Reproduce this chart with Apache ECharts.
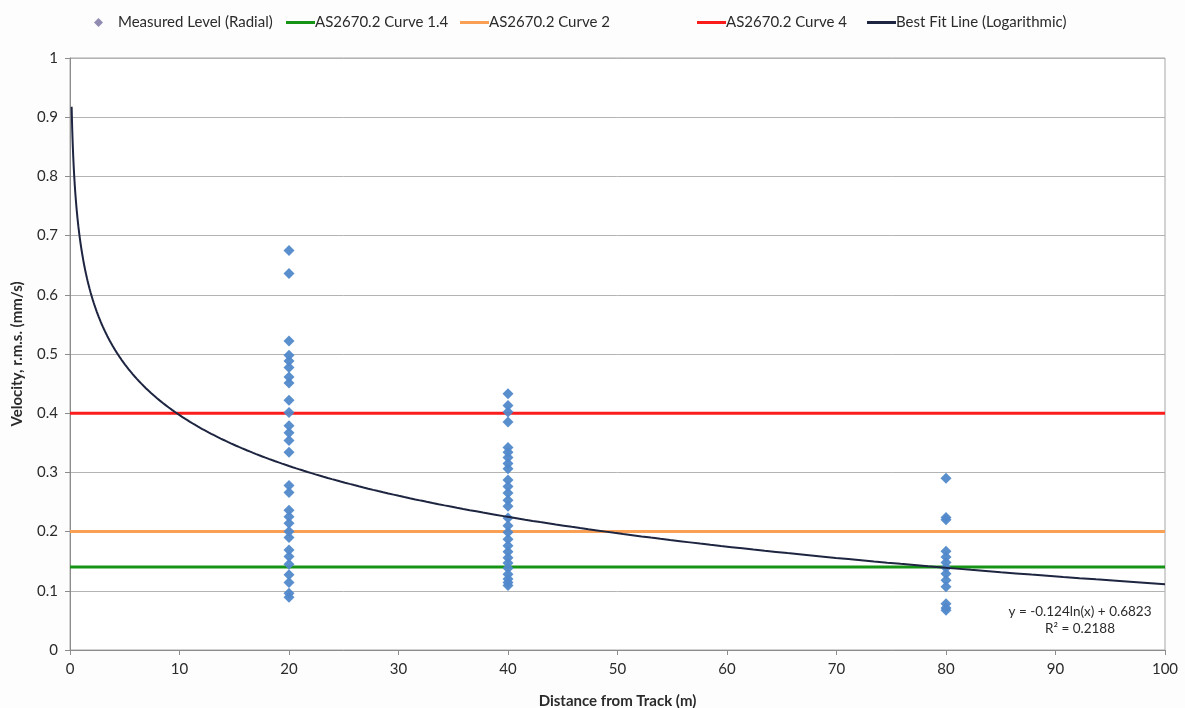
<!DOCTYPE html>
<html>
<head>
<meta charset="utf-8">
<script src="https://cdn.jsdelivr.net/npm/echarts@6/dist/echarts.min.js"></script>
<style>
  html, body { margin: 0; padding: 0; background: #fdfdfd; }
  #chart { width: 1185px; height: 708px; }
</style>
</head>
<body>
<div id="chart"></div>
<script>
// Measured radial vibration velocities (mm/s r.m.s.) grouped by distance from track (m)
const distances = [20, 40, 80];
const levelsAt20 = [0.675, 0.636, 0.522, 0.498, 0.488, 0.477, 0.461, 0.451, 0.422, 0.401,
  0.379, 0.367, 0.354, 0.334, 0.278, 0.266, 0.236, 0.225, 0.214, 0.200, 0.190, 0.169,
  0.158, 0.145, 0.127, 0.114, 0.096, 0.089];
const levelsAt40 = [0.433, 0.413, 0.402, 0.385, 0.342, 0.334, 0.325, 0.315, 0.306, 0.287,
  0.276, 0.265, 0.253, 0.243, 0.223, 0.210, 0.199, 0.187, 0.176, 0.166, 0.156, 0.147,
  0.138, 0.128, 0.120, 0.114, 0.109];
const levelsAt80 = [0.290, 0.224, 0.220, 0.167, 0.157, 0.148, 0.139, 0.129, 0.118, 0.107,
  0.078, 0.071, 0.067];

// AS2670.2 criteria curves (constant velocity limits)
const curveNames = ['AS2670.2 Curve 1.4', 'AS2670.2 Curve 2', 'AS2670.2 Curve 4'];
const curveLevels = [0.14, 0.2, 0.4];
const curveColors = ['#169416', '#f9a055', '#fb1c1c'];

// Logarithmic best fit as printed on the chart: y = a*ln(x) + b
const fitA = -0.124;
const fitB = 0.6823;
const fitR2 = 0.2188;
const fitXStart = 0.15;
const fitXEnd = 100;

const xTicks = { min: 0, max: 100, interval: 10 };
const yTicks = { min: 0, max: 1, interval: 0.1 };

const measured = [];
[levelsAt20, levelsAt40, levelsAt80].forEach((arr, i) => {
  arr.forEach(v => measured.push([distances[i], v]));
});

const fitCurve = [];
for (let k = 0; k <= 400; k++) {
  const x = fitXStart * Math.pow(fitXEnd / fitXStart, k / 400);
  fitCurve.push([x, fitA * Math.log(x) + fitB]);
}

const font = 'Lato, "Open Sans", sans-serif';
const textColor = '#2b2b2b';

const chart = echarts.init(document.getElementById('chart'));

const legendText = { color: textColor, fontFamily: font, fontSize: 15 };
function lineLegend(name, left, color) {
  return {
    left: left, top: 10, itemWidth: 29, itemHeight: 3, itemGap: 0,
    textStyle: Object.assign({ padding: [0, 0, 0, -5] }, legendText),
    data: [{ name: name, icon: 'rect', itemStyle: { color: color } }]
  };
}

chart.setOption({
  animation: false,
  backgroundColor: '#fdfdfd',
  grid: {
    left: 70, right: 20, top: 58, bottom: 58, outerBoundsMode: 'none',
    show: true, backgroundColor: '#ffffff', borderColor: '#a6a6a6', borderWidth: 1
  },
  legend: [
    {
      left: 89, top: 10, itemWidth: 9, itemHeight: 9, itemGap: 0,
      textStyle: Object.assign({ padding: [0, 0, 0, 10] }, legendText),
      data: [{ name: 'Measured Level (Radial)', icon: 'diamond', itemStyle: { color: '#8a86ad' } }]
    },
    lineLegend(curveNames[0], 281, curveColors[0]),
    lineLegend(curveNames[1], 455, curveColors[1]),
    lineLegend(curveNames[2], 692, curveColors[2]),
    lineLegend('Best Fit Line (Logarithmic)', 862, '#1d2540')
  ],
  xAxis: {
    type: 'value', min: xTicks.min, max: xTicks.max, interval: xTicks.interval,
    name: 'Distance from Track (m)', nameLocation: 'middle', nameGap: 44,
    nameTextStyle: { fontFamily: font, fontWeight: 'bold', fontSize: 15, color: textColor },
    axisLine: { show: true, lineStyle: { color: '#8c8c8c', width: 1 } },
    axisTick: { show: true, length: 5, lineStyle: { color: '#8c8c8c' } },
    axisLabel: { fontFamily: font, fontSize: 15, color: textColor, margin: 12 },
    splitLine: { show: false }
  },
  yAxis: {
    type: 'value', min: yTicks.min, max: yTicks.max, interval: yTicks.interval,
    name: 'Velocity, r.m.s. (mm/s)', nameLocation: 'middle', nameGap: 45,
    nameTextStyle: { fontFamily: font, fontWeight: 'bold', fontSize: 15, color: textColor },
    axisLine: { show: true, lineStyle: { color: '#8c8c8c', width: 1 } },
    axisTick: { show: true, length: 5, lineStyle: { color: '#8c8c8c' } },
    axisLabel: { fontFamily: font, fontSize: 15, color: textColor, margin: 12 },
    splitLine: { show: true, lineStyle: { color: '#b3b3b3', width: 1 } }
  },
  series: [
    {
      name: 'Measured Level (Radial)', type: 'scatter', data: measured,
      symbol: 'diamond', symbolSize: 11, z: 5,
      itemStyle: { color: '#5189cb', opacity: 0.95 }
    },
    ...curveNames.map((n, i) => ({
      name: n, type: 'line', data: [[xTicks.min, curveLevels[i]], [xTicks.max, curveLevels[i]]],
      showSymbol: false, symbol: 'none', z: 3,
      lineStyle: { color: curveColors[i], width: 3 }, itemStyle: { color: curveColors[i] }
    })),
    {
      name: 'Best Fit Line (Logarithmic)', type: 'line', data: fitCurve,
      showSymbol: false, symbol: 'none', z: 6,
      lineStyle: { color: '#1d2540', width: 2 }, itemStyle: { color: '#1d2540' }
    }
  ],
  graphic: [
    {
      type: 'text', x: 1080, y: 603, z: 11,
      style: {
        text: 'y = ' + fitA + 'ln(x) + ' + fitB + '\nR² = ' + fitR2,
        fontFamily: font, fontSize: 13.5, fill: textColor, align: 'center',
        lineHeight: 17
      }
    }
  ]
});
</script>
</body>
</html>
